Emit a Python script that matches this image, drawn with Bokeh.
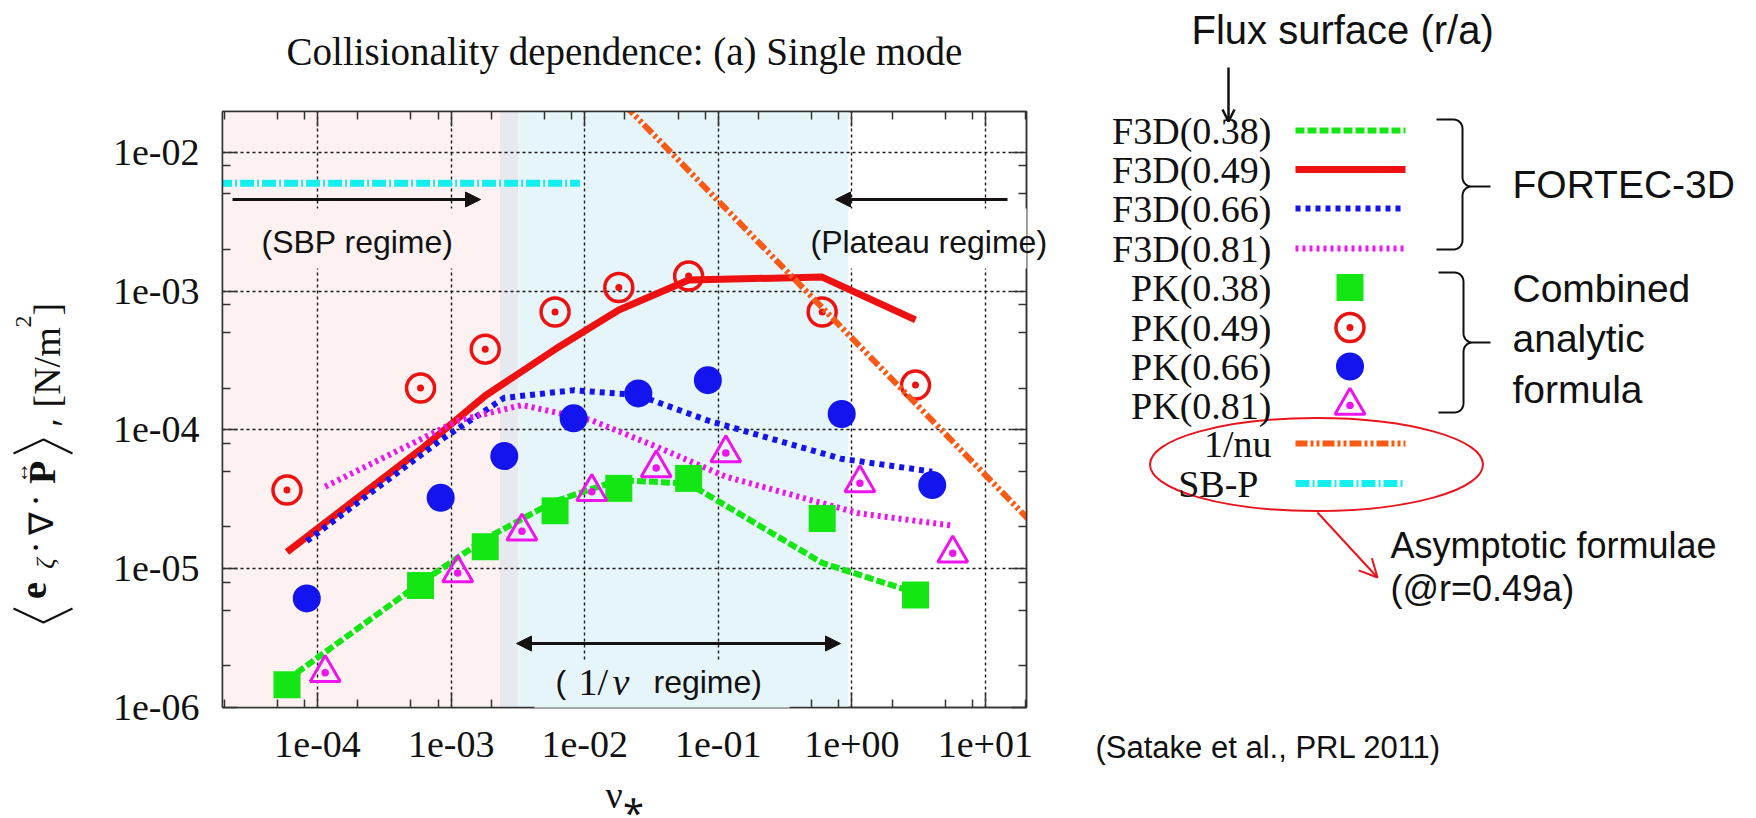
import numpy as np
from bokeh.plotting import figure
from bokeh.models import (Range1d, FixedTicker, LogAxis, BasicTickFormatter,
                          BoxAnnotation, Label, Arrow, NormalHead, OpenHead)
from bokeh.layouts import row
from bokeh.embed import file_html
from bokeh.resources import INLINE

SERIF = "Liberation Serif"
SANS = "Liberation Sans"
INK = "#111111"
AXC = "#333333"
GRIDC = "#1a1a1a"

# ---------------- data ----------------
x_ticks = [1e-4, 1e-3, 1e-2, 1e-1, 1e0, 1e1]
x_tick_labels = ["1e-04", "1e-03", "1e-02", "1e-01", "1e+00", "1e+01"]
y_ticks = [1e-6, 1e-5, 1e-4, 1e-3, 1e-2]
y_tick_labels = ["1e-06", "1e-05", "1e-04", "1e-03", "1e-02"]
minor_mantissas = [2, 5, 8]

# FORTEC-3D results
nu_f38 = [5.9e-5, 5.9e-4, 1.8e-3, 6.0e-3, 1.8e-2, 6.0e-2, 0.6, 3.0]
f38 = [1.58e-6, 7.9e-6, 1.64e-5, 3.06e-5, 4.35e-5, 4.1e-5, 1.1e-5, 6.7e-6]
nu_f49 = [5.9e-5, 5.9e-4, 1.8e-3, 6.0e-3, 1.8e-2, 6.0e-2, 0.6, 3.0]
f49 = [1.32e-5, 7.2e-5, 1.76e-4, 3.8e-4, 7.3e-4, 1.2e-3, 1.26e-3, 6.2e-4]
nu_f66 = [8.3e-5, 8.3e-4, 2.5e-3, 8.3e-3, 2.5e-2, 8.3e-2, 0.83, 4.0]
f66 = [1.58e-5, 8.4e-5, 1.7e-4, 1.93e-4, 1.78e-4, 1.17e-4, 6.2e-5, 5.0e-5]
nu_f81 = [1.14e-4, 1.14e-3, 3.4e-3, 1.13e-2, 3.4e-2, 0.114, 1.14, 5.7]
f81 = [3.9e-5, 1.17e-4, 1.51e-4, 1.17e-4, 7.6e-5, 4.6e-5, 2.5e-5, 2.04e-5]

# combined analytic formula (PK)
nu_pk38 = [5.9e-5, 5.9e-4, 1.8e-3, 6.0e-3, 1.8e-2, 6.0e-2, 0.6, 3.0]
pk38 = [1.46e-6, 7.55e-6, 1.44e-5, 2.61e-5, 3.79e-5, 4.47e-5, 2.3e-5, 6.45e-6]
nu_pk49 = [5.9e-5, 5.9e-4, 1.8e-3, 6.0e-3, 1.8e-2, 6.0e-2, 0.6, 3.0]
pk49 = [3.68e-5, 2.0e-4, 3.81e-4, 7.06e-4, 1.06e-3, 1.28e-3, 7.06e-4, 2.1e-4]
nu_pk66 = [8.3e-5, 8.35e-4, 2.5e-3, 8.26e-3, 2.52e-2, 8.36e-2, 0.84, 4.0]
pk66 = [6.1e-6, 3.24e-5, 6.47e-5, 1.21e-4, 1.83e-4, 2.28e-4, 1.3e-4, 4.0e-5]
nu_pk81 = [1.14e-4, 1.12e-3, 3.39e-3, 1.13e-2, 3.43e-2, 0.114, 1.15, 5.7]
pk81 = [1.78e-6, 9.3e-6, 1.86e-5, 3.58e-5, 5.3e-5, 6.8e-5, 4.13e-5, 1.29e-5]

# asymptotic formulae (@ r = 0.49a)
nu_1nu = [0.02, 22.0]
p_1nu = [2.18e-2, 2.17e-5]
nu_sbp = [1.8e-5, 9.2e-3]
p_sbp = [5.98e-3, 5.98e-3]

# regime boundaries
sbp_end = 2.32e-3
band_end = 3.19e-3
plateau_start = 0.944

series_names = ["F3D(0.38)", "F3D(0.49)", "F3D(0.66)", "F3D(0.81)",
                "PK(0.38)", "PK(0.49)", "PK(0.66)", "PK(0.81)", "1/nu", "SB-P"]

# ---------------- styles ----------------
GREEN, RED, BLUE = "#14E614", "#EE1111", "#1414EE"
MAGENTA, ORANGE, CYAN = "#EE14EE", "#FA5A14", "#14EEEE"
PINK, BAND, LBLUE = "#FDF1F1", "#E6E9EE", "#E6F5FA"

line_styles = {
    "F3D(0.38)": dict(line_color=GREEN, line_width=6, line_dash="9 3"),
    "F3D(0.49)": dict(line_color=RED, line_width=7),
    "F3D(0.66)": dict(line_color=BLUE, line_width=6, line_dash="5 5"),
    "F3D(0.81)": dict(line_color=MAGENTA, line_width=6, line_dash="3 4"),
    "1/nu": dict(line_color=ORANGE, line_width=6, line_dash="12 3 3 3 3 3"),
    "SB-P": dict(line_color=CYAN, line_width=7, line_dash="14 3 2 3"),
}
marker_styles = {
    "PK(0.38)": dict(marker="square", size=27, fill_color=GREEN, line_color=None),
    "PK(0.49)": dict(marker="circle_dot", size=28, fill_color=None, line_color=RED, line_width=3.5),
    "PK(0.66)": dict(marker="circle", size=28, fill_color=BLUE, line_color=None),
    "PK(0.81)": dict(marker="triangle_dot", size=30, fill_color=None, line_color=MAGENTA, line_width=3),
}

H = 816
P1_RIGHT = 1050          # right edge of the main plot's canvas on the page
# ---------------- main plot ----------------
FL, FR, FT, FB = 222, 1026, 111, 707          # frame edges on the page
XLO, XHI = -4.712, 1.308
YLO, YHI = -6.0, -1.707


def dx(px):
    return 10 ** (XLO + (px - FL) / (FR - FL) * (XHI - XLO))


def dy(py):
    return 10 ** (YLO + (FB - py) / (FB - FT) * (YHI - YLO))


p1 = figure(width=P1_RIGHT - 90, height=H, x_axis_type="log", y_axis_type="log",
            x_range=Range1d(10 ** XLO, 10 ** XHI), y_range=Range1d(10 ** YLO, 10 ** YHI),
            min_border_left=FL - 90, min_border_right=P1_RIGHT - FR,
            min_border_top=FT, min_border_bottom=H - FB,
            toolbar_location=None, output_backend="svg", frame_align=False)
p1.title.visible = False
p1.outline_line_color = AXC
p1.outline_line_width = 1.5

x_minor = [m * 10.0 ** k for k in range(-5, 2) for m in minor_mantissas]
y_minor = [m * 10.0 ** k for k in range(-6, -1) for m in minor_mantissas]


def style_axis(ax, ticks, minor, labels):
    ax.ticker = FixedTicker(ticks=ticks, minor_ticks=minor)
    ax.formatter = BasicTickFormatter()
    ax.major_tick_in = 15
    ax.major_tick_out = 0
    ax.minor_tick_in = 8
    ax.minor_tick_out = 0
    ax.major_tick_line_color = AXC
    ax.minor_tick_line_color = AXC
    ax.major_tick_line_width = 1.5
    ax.minor_tick_line_width = 1.5
    ax.axis_line_color = AXC
    ax.axis_line_width = 1.5
    if labels is None:
        ax.major_label_overrides = {t: "" for t in ticks}
        ax.major_label_text_font_size = "0px"
        ax.major_label_standoff = 0
    else:
        ax.major_label_overrides = dict(zip(ticks, labels))
        ax.major_label_text_font = SERIF
        ax.major_label_text_font_size = "38px"
        ax.major_label_text_color = INK


style_axis(p1.xaxis[0], x_ticks, x_minor, x_tick_labels)
style_axis(p1.yaxis[0], y_ticks, y_minor, y_tick_labels)
p1.xaxis[0].major_label_standoff = 24
p1.yaxis[0].major_label_standoff = 23
xtop = LogAxis()
style_axis(xtop, x_ticks, x_minor, None)
p1.add_layout(xtop, "above")
yright = LogAxis()
style_axis(yright, y_ticks, y_minor, None)
p1.add_layout(yright, "right")

p1.xgrid.ticker = FixedTicker(ticks=x_ticks)
p1.ygrid.ticker = FixedTicker(ticks=y_ticks)
p1.grid.grid_line_color = GRIDC
p1.grid.grid_line_width = 1.4
p1.grid.grid_line_dash = "3 3"

# regime shading
p1.add_layout(BoxAnnotation(right=sbp_end, fill_color=PINK, fill_alpha=1, line_color=None, level="image"))
p1.add_layout(BoxAnnotation(left=sbp_end, right=band_end, fill_color=BAND, fill_alpha=1,
                            line_color=None, level="image"))
p1.add_layout(BoxAnnotation(left=band_end, right=plateau_start, fill_color=LBLUE, fill_alpha=1,
                            line_color=None, level="image"))

# series
for name, xs, ys in [("F3D(0.38)", nu_f38, f38), ("F3D(0.49)", nu_f49, f49),
                     ("F3D(0.66)", nu_f66, f66), ("F3D(0.81)", nu_f81, f81)]:
    p1.line(xs, ys, **line_styles[name])
for name, xs, ys in [("PK(0.38)", nu_pk38, pk38), ("PK(0.49)", nu_pk49, pk49),
                     ("PK(0.66)", nu_pk66, pk66), ("PK(0.81)", nu_pk81, pk81)]:
    p1.scatter(xs, ys, **marker_styles[name])
p1.line(nu_1nu, p_1nu, **line_styles["1/nu"])
p1.line(nu_sbp, p_sbp, **line_styles["SB-P"])


def mk(x, y, text, font=SANS, size=32, style="normal", align="left", angle=0):
    return Label(x=x, y=y, text=text, text_font=font, text_font_size=f"{size}px",
                 text_font_style=style, text_align=align, text_baseline="middle",
                 text_color=INK, angle=angle)


def lab(fig, *args, **kw):
    fig.add_layout(mk(*args, **kw))


# label boxes
p1.add_layout(BoxAnnotation(left=dx(242), right=dx(472), top=dy(208), bottom=dy(268),
                            fill_color=PINK, fill_alpha=1, line_color=None))
p1.add_layout(BoxAnnotation(left=dx(534), right=dx(789), top=dy(660),
                            fill_color=LBLUE, fill_alpha=1, line_color=None))
# pieces that reach over the frame edge live in the side panels (not clipped)
p1.add_layout(BoxAnnotation(left=dx(534), right=dx(789), top=dy(702), bottom=dy(711),
                            fill_color=LBLUE, fill_alpha=1, line_color=None), "below")
p1.add_layout(BoxAnnotation(left=dx(848), right=dx(1046), top=dy(208), bottom=dy(268),
                            fill_color="white", fill_alpha=1, line_color=None), "above")
p1.add_layout(mk(dx(810), dy(241), "(Plateau regime)"), "above")

ARC = "#161212"
p1.add_layout(Arrow(end=NormalHead(size=15, fill_color=ARC, line_color=ARC),
                    x_start=dx(232), y_start=dy(199), x_end=dx(480), y_end=dy(199),
                    line_color=ARC, line_width=3))
p1.add_layout(Arrow(end=NormalHead(size=15, fill_color=ARC, line_color=ARC),
                    x_start=dx(1007), y_start=dy(199), x_end=dx(835), y_end=dy(199),
                    line_color=ARC, line_width=3))
p1.add_layout(Arrow(start=NormalHead(size=15, fill_color=ARC, line_color=ARC),
                    end=NormalHead(size=15, fill_color=ARC, line_color=ARC),
                    x_start=dx(516), y_start=dy(643), x_end=dx(840), y_end=dy(643),
                    line_color=ARC, line_width=3))

lab(p1, dx(261), dy(241), "(SBP regime)")
lab(p1, dx(555), dy(681), "(")
lab(p1, dx(578), dy(681), "1/", font=SERIF, size=38)
lab(p1, dx(612), dy(681), "ν", font=SERIF, size=38, style="italic")
lab(p1, dx(653), dy(681), "regime)")

# title above the frame, x-axis label below it
p1.add_layout(mk(dx(624), dy(51), "Collisionality dependence: (a) Single mode",
                 font=SERIF, size=39, align="center"), "above")
p1.add_layout(mk(dx(624), dy(794), "ν⁎", font=SERIF, size=38, align="center"), "below")

# ---------------- y-axis label strip ----------------
p0 = figure(width=90, height=H, x_range=Range1d(0, 90), y_range=Range1d(0, H),
            x_axis_type=None, y_axis_type=None, min_border=0, toolbar_location=None,
            outline_line_color=None, output_backend="svg", frame_align=False)


def p0y(py):
    return H - py


R90 = np.pi / 2
for text, mx, cy, size, style in [
        ("e", 33, 590, 38, "bold"),
        ("ζ", 45, 563, 26, "italic"),
        ("·", 34, 547, 38, "normal"),
        ("∇", 41, 523, 34, "normal"),
        ("·", 34, 500, 38, "normal"),
        ("P", 41, 472, 38, "bold"),
        ("↔", 20, 472, 22, "normal"),
        ("′", 64, 422, 38, "normal")]:
    lab(p0, mx, p0y(cy), text, font=SERIF, size=size, style=style, align="center", angle=R90)
lab(p0, 46, p0y(407), "[N/m", font=SERIF, size=38, angle=R90)
lab(p0, 23, p0y(327), "2", font=SERIF, size=24, angle=R90)
lab(p0, 46, p0y(315), "]", font=SERIF, size=38, angle=R90)
p0.line([13, 43, 72], [p0y(608), p0y(622), p0y(608)], line_color=INK, line_width=2)
p0.line([13, 43, 72], [p0y(453), p0y(439), p0y(453)], line_color=INK, line_width=2)

# ---------------- legend / annotation panel ----------------
p2 = figure(width=1754 - P1_RIGHT, height=H, x_range=Range1d(P1_RIGHT, 1754), y_range=Range1d(H, 0),
            x_axis_type=None, y_axis_type=None, min_border=0, toolbar_location=None,
            outline_line_color=None, output_backend="svg", frame_align=False)

lab(p2, 1191, 29, "Flux surface (r/a)", size=40)
p2.add_layout(Arrow(end=OpenHead(size=12, line_color=INK, line_width=2.5),
                    x_start=1228, y_start=67, x_end=1228, y_end=121,
                    line_color=INK, line_width=2.5))

leg_rows = [130, 169, 208, 248, 287, 327, 366, 405, 443, 483]
leg_right = [1271] * 9 + [1258]
for name, yrow, xr in zip(series_names, leg_rows, leg_right):
    lab(p2, xr, yrow, name, font=SERIF, size=38, align="right")
    if name in line_styles:
        p2.line([1295, 1405], [yrow, yrow], **line_styles[name])
    else:
        p2.scatter([1349.5], [yrow], **marker_styles[name])


def brace_path(xe, xs, xt, y0, y1, yt, r=9, n=8):
    t = np.linspace(0, np.pi / 2, n)
    bx, by = [xe], [y0]
    cx, cy = xs - r, y0 + r
    bx += list(cx + r * np.sin(t)); by += list(cy - r * np.cos(t))
    cx, cy = xs + r, yt - r
    bx += list(cx - r * np.cos(t)); by += list(cy + r * np.sin(t))
    bx += [xt]; by += [yt]
    cx, cy = xs + r, yt + r
    bx += list(cx - r * np.sin(t)); by += list(cy - r * np.cos(t))
    cx, cy = xs - r, y1 - r
    bx += list(cx + r * np.cos(t)); by += list(cy + r * np.sin(t))
    bx += [xe]; by += [y1]
    return bx, by


for args in [(1436, 1462, 1490, 119, 249, 186), (1438, 1463, 1490, 272, 412, 342)]:
    bx, by = brace_path(*args)
    p2.line(bx, by, line_color=INK, line_width=2)

lab(p2, 1512, 184, "FORTEC-3D", size=39)
lab(p2, 1512, 288, "Combined", size=39)
lab(p2, 1512, 338, "analytic", size=39)
lab(p2, 1512, 389, "formula", size=39)

ELL = "#E8141E"
p2.ellipse(x=[1316], y=[464], width=[333], height=[93], fill_color=None,
           line_color=ELL, line_width=2)
p2.add_layout(Arrow(end=OpenHead(size=18, line_color=ELL, line_width=2),
                    x_start=1317, y_start=512, x_end=1377, y_end=577,
                    line_color=ELL, line_width=2))
lab(p2, 1390, 545, "Asymptotic formulae", size=36)
lab(p2, 1390, 588, "(@r=0.49a)", size=36)
lab(p2, 1095, 747, "(Satake et al., PRL 2011)", size=31)

layout = row(p0, p1, p2)
open("out.html", "w").write(file_html(layout, INLINE, title="Collisionality dependence"))
